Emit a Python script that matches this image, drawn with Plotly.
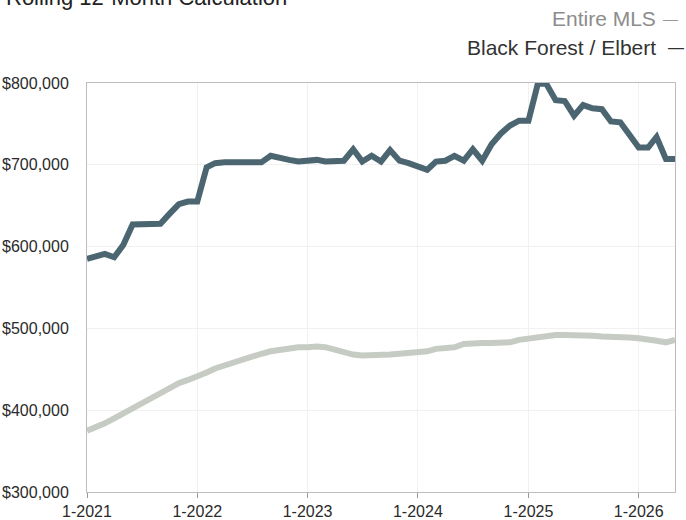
import plotly.graph_objects as go

# Monthly dates, Jan 2021 .. May 2026
months = [f"{2021 + i // 12}-{i % 12 + 1:02d}-01" for i in range(65)]

black_forest = [
    585000, 588000, 591000, 587000, 602000, 627000, 627000, 627000, 628000, 640000,
    652000, 655000, 655000, 697000, 702000, 703000, 703000, 703000, 703000, 703000,
    711000, 708000, 706000, 704000, 705000, 706000, 704000, 704000, 705000, 719000,
    704000, 711000, 704000, 718000, 705000, 702000, 698000, 694000, 704000, 705000,
    711000, 705000, 719000, 705000, 725000, 738000, 748000, 754000, 754000, 799000,
    799000, 779000, 778000, 760000, 773000, 769000, 768000, 753000, 752000, 736000,
    721000, 721000, 734000, 707000, 707000,
]

entire_mls = [
    375000, 379000, 384000, 390000, 396000, 403000, 409000, 416000, 421000, 428000,
    433000, 437000, 441000, 446000, 451000, 455000, 459000, 462000, 466000, 469000,
    472000, 474000, 476000, 477000, 477000, 478000, 477000, 474000, 470000, 468000,
    467000, 467000, 467000, 468000, 469000, 470000, 471000, 472000, 475000, 476000,
    477000, 481000, 482000, 482000, 482000, 483000, 483000, 486000, 488000, 490000,
    491000, 492000, 492000, 492000, 492000, 491000, 490000, 490000, 490000, 489000,
    488000, 487000, 485000, 483000, 486000,
]

x_tick_vals = ["2021-01-01", "2022-01-01", "2023-01-01", "2024-01-01", "2025-01-01", "2026-01-01"]
x_tick_text = ["1-2021", "1-2022", "1-2023", "1-2024", "1-2025", "1-2026"]
y_tick_vals = [300000, 400000, 500000, 600000, 700000, 800000]
y_tick_text = ["$300,000", "$400,000", "$500,000", "$600,000", "$700,000", "$800,000"]

FONT = "Liberation Sans, Arial, Helvetica, sans-serif"
MLS_COLOR = "#c6ccc3"
BF_COLOR = "#4b6671"

fig = go.Figure()
fig.add_trace(go.Scatter(x=months, y=entire_mls, mode="lines", name="Entire MLS",
                         line=dict(color=MLS_COLOR, width=6)))
fig.add_trace(go.Scatter(x=months, y=black_forest, mode="lines", name="Black Forest / Elbert",
                         line=dict(color=BF_COLOR, width=6)))

fig.update_layout(
    width=686, height=520,
    margin=dict(l=87, r=11, t=83, b=28, autoexpand=False),
    paper_bgcolor="white", plot_bgcolor="white",
    showlegend=False,
    font=dict(family=FONT, size=16, color="#2a2a2a"),
)
fig.update_xaxes(
    type="date", range=["2021-01-01", "2026-05-01"],
    tickvals=x_tick_vals, ticktext=x_tick_text,
    showline=True, mirror=True, linecolor="#bdbdbd", linewidth=1,
    showgrid=True, gridcolor="#f1f1f1", gridwidth=1,
    ticks="outside", ticklen=5, tickcolor="#999",
    tickfont=dict(size=16, color="#2a2a2a"),
    automargin=False,
)
fig.update_yaxes(
    range=[300000, 800000],
    tickvals=y_tick_vals, ticktext=y_tick_text,
    showline=True, mirror=True, linecolor="#bdbdbd", linewidth=1,
    showgrid=True, gridcolor="#f1f1f1", gridwidth=1,
    ticks="", ticklabelstandoff=14,
    tickfont=dict(size=16, color="#2a2a2a"),
    zeroline=False, automargin=False,
)

annotations = [
    dict(text="Rolling 12-Month Calculation", xref="paper", yref="paper",
         x=(4 - 87) / 588, y=(492 - 12) / 409, xanchor="left", yanchor="bottom",
         showarrow=False, font=dict(size=22, color="#222")),
    dict(text="Entire MLS", xref="paper", yref="paper",
         x=(658 - 87) / 588, y=(492 - 19) / 409, xanchor="right", yanchor="middle",
         showarrow=False, font=dict(size=21, color="#8c8c8c")),
    dict(text="—", xref="paper", yref="paper",
         x=(670 - 87) / 588, y=(492 - 19) / 409, xanchor="center", yanchor="middle",
         showarrow=False, font=dict(size=15, color="#9a9a9a")),
    dict(text="Black Forest / Elbert", xref="paper", yref="paper",
         x=(658 - 87) / 588, y=(492 - 47) / 409, xanchor="right", yanchor="middle",
         showarrow=False, font=dict(size=21, color="#333")),
    dict(text="—", xref="paper", yref="paper",
         x=(676 - 87) / 588, y=(492 - 47) / 409, xanchor="center", yanchor="middle",
         showarrow=False, font=dict(size=16, color="#333")),
]
fig.update_layout(annotations=annotations)

fig.write_html("out.html", config={"displayModeBar": False},
               post_script="document.body.style.margin='0';")
